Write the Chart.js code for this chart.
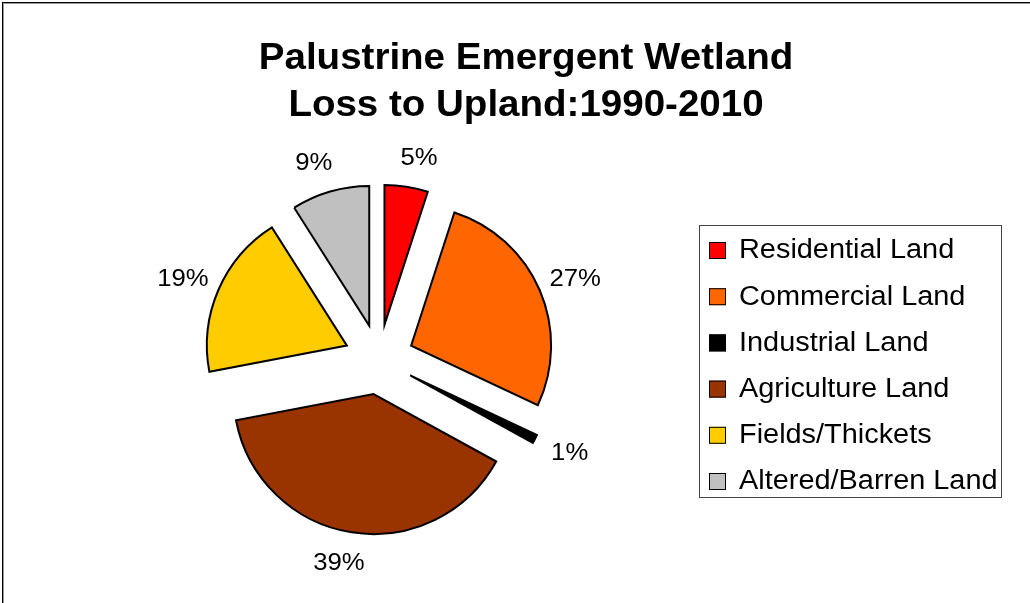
<!DOCTYPE html>
<html>
<head>
<meta charset="utf-8">
<title>Palustrine Emergent Wetland Loss to Upland</title>
<script src="https://cdn.jsdelivr.net/npm/chart.js@4.4.0/dist/chart.umd.min.js"></script>
<style>
    html, body { margin: 0; padding: 0; background: #fff; overflow: hidden; }
    #frame {
        position: absolute; left: 2px; top: 2px; width: 1100px; height: 700px;
        border: 1px solid #000; box-shadow: inset 1px 1px 0 #999;
    }
    canvas { position: absolute; left: 0; top: 0; }
</style>
</head>
<body>
<div id="frame"></div>
<canvas id="lossChart" width="1030" height="603"></canvas>
<script>
// Data for the chart
const titleLines = ['Palustrine Emergent Wetland', 'Loss to Upland:1990-2010'];
const categories = ['Residential Land', 'Commercial Land', 'Industrial Land', 'Agriculture Land', 'Fields/Thickets', 'Altered/Barren Land'];
const shares = [5, 27, 1, 39, 19, 9];
const sliceColors = ['#FF0000', '#FF6600', '#000000', '#993300', '#FFCC00', '#C0C0C0'];

const fontFamily = '"Liberation Sans", Arial, sans-serif';
const explodeBy = 35;
const textStretch = 1.07; // the original text is a bit wider than Arial

// fillText with a slight horizontal stretch around x
function wideText(ctx, text, x, y) {
    ctx.save();
    ctx.translate(x, y);
    ctx.scale(textStretch, 1);
    ctx.fillText(text, 0, 0);
    ctx.restore();
}

// draws slices pulled out from the centre, plus labels, title and boxed legend
const pieExtras = {
    id: 'pieExtras',
    beforeDatasetsDraw(chart) {
        const ctx = chart.ctx;
        chart.getDatasetMeta(0).data.forEach(arc => {
            const mid = (arc.startAngle + arc.endAngle) / 2;
            ctx.save();
            ctx.translate(Math.cos(mid) * explodeBy, Math.sin(mid) * explodeBy);
            arc.draw(ctx);
            ctx.restore();
        });
        return false;
    },
    afterDraw(chart) {
        const ctx = chart.ctx;
        const values = chart.data.datasets[0].data;
        const total = values.reduce((a, b) => a + b, 0);
        ctx.save();
        ctx.fillStyle = '#000';
        ctx.textAlign = 'center';
        ctx.textBaseline = 'middle';

        // percentage labels, a little further out sideways
        ctx.font = '24px ' + fontFamily;
        chart.getDatasetMeta(0).data.forEach((arc, i) => {
            const mid = (arc.startAngle + arc.endAngle) / 2;
            const dist = arc.outerRadius + explodeBy + 30;
            const c = Math.cos(mid);
            const pct = Math.round(values[i] / total * 100) + '%';
            wideText(ctx, pct, arc.x + c * dist + Math.sign(c) * 8, arc.y + Math.sin(mid) * dist + 1);
        });

        // title
        ctx.font = 'bold 36px ' + fontFamily;
        wideText(ctx, titleLines[0], 526, 59);
        wideText(ctx, titleLines[1], 526, 106);

        // legend box
        ctx.strokeStyle = '#444';
        ctx.lineWidth = 1;
        ctx.strokeRect(699.5, 225.5, 302, 272);
        ctx.font = '27px ' + fontFamily;
        ctx.textAlign = 'left';
        chart.data.labels.forEach((label, i) => {
            const cy = 250 + i * 46.2;
            ctx.fillStyle = sliceColors[i];
            ctx.fillRect(709, cy - 8, 17, 17);
            ctx.strokeStyle = '#000';
            ctx.strokeRect(709.5, cy - 7.5, 16, 16);
            ctx.fillStyle = '#000';
            wideText(ctx, label, 739, cy + 1);
        });
        ctx.restore();
    }
};

const ctx = document.getElementById('lossChart').getContext('2d');
const lossChart = new Chart(ctx, {
    type: 'pie',
    data: {
        labels: categories,
        datasets: [{
            data: shares,
            backgroundColor: sliceColors,
            borderColor: '#000',
            borderWidth: 2,
            borderJoinStyle: 'miter'
        }]
    },
    options: {
        responsive: false,
        animation: false,
        events: [],
        radius: 140,
        layout: {
            padding: { left: 179, right: 451, top: 160, bottom: 44 }
        },
        plugins: {
            legend: { display: false },
            title: { display: false },
            tooltip: { enabled: false }
        }
    },
    plugins: [pieExtras]
});
</script>
</body>
</html>
